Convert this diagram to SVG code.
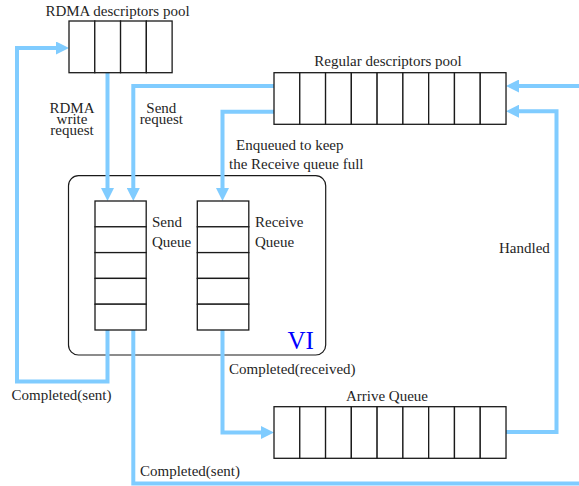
<svg xmlns="http://www.w3.org/2000/svg" width="579" height="486" viewBox="0 0 579 486">
<style>
.cell{fill:#ffffff;stroke:#1a1a1a;stroke-width:1.3}
.vi{fill:none;stroke:#1a1a1a;stroke-width:1.2}
.flow{fill:none;stroke:#80ccff;stroke-width:4;stroke-linejoin:miter;stroke-linecap:butt}
.arr{marker-end:url(#ah)}
text{font-family:"Liberation Serif","Times New Roman",serif;font-size:15px;fill:#1f1f1f}
.mid{text-anchor:middle}
.vilabel{font-size:25px;fill:#0000ff}
</style>
<defs>
<marker id="ah" markerUnits="userSpaceOnUse" viewBox="0 0 13 13" refX="0" refY="6.5" markerWidth="13" markerHeight="13" orient="auto">
<path d="M0,0 L13,6.5 L0,13 z" fill="#80ccff"/>
</marker>
</defs>
<rect width="579" height="486" fill="#ffffff"/>

<g id="vi">
<rect class="vi" x="68.5" y="175.7" width="257.2" height="179.3" rx="10" ry="10"/>
<text class="vilabel" x="287.5" y="348.5">VI</text>
</g>

<g id="connectors">
<path class="flow arr" d="M107.5,72.7 V188"/>
<path class="flow arr" d="M274,86 H133.3 V188"/>
<path class="flow arr" d="M274,111.7 H222.5 V188"/>
<path class="flow arr" d="M107.5,330 V381.5 H17 V48 H56"/>
<path class="flow" d="M133.3,330 V483.5 H585"/>
<path class="flow arr" d="M222.5,330 V432.5 H261"/>
<path class="flow arr" d="M506,432 H556.5 V111.2 H519"/>
<path class="flow arr" d="M585,86 H519"/>
<text class="mid" x="72" y="112.7">RDMA</text>
<text class="mid" x="72" y="124">write</text>
<text class="mid" x="72" y="134.5">request</text>
<text class="mid" x="161.3" y="112.7">Send</text>
<text class="mid" x="161.3" y="123.5">request</text>
<text x="236" y="149.5">Enqueued to keep</text>
<text x="229" y="169">the Receive queue full</text>
<text x="229" y="374">Completed(received)</text>
<text x="11.5" y="400">Completed(sent)</text>
<text x="140" y="476">Completed(sent)</text>
<text x="499" y="253">Handled</text>
</g>

<g id="rdma-pool">
<text class="mid" x="117.5" y="15.5">RDMA descriptors pool</text>
<rect class="cell" x="69" y="21" width="25.78" height="51.7"/>
<rect class="cell" x="94.78" y="21" width="25.78" height="51.7"/>
<rect class="cell" x="120.56" y="21" width="25.78" height="51.7"/>
<rect class="cell" x="146.34" y="21" width="25.78" height="51.7"/>
</g>

<g id="regular-pool">
<text class="mid" x="388" y="66">Regular descriptors pool</text>
<rect class="cell" x="274" y="72.7" width="25.78" height="51.6"/>
<rect class="cell" x="299.78" y="72.7" width="25.78" height="51.6"/>
<rect class="cell" x="325.56" y="72.7" width="25.78" height="51.6"/>
<rect class="cell" x="351.34" y="72.7" width="25.78" height="51.6"/>
<rect class="cell" x="377.12" y="72.7" width="25.78" height="51.6"/>
<rect class="cell" x="402.9" y="72.7" width="25.78" height="51.6"/>
<rect class="cell" x="428.68" y="72.7" width="25.78" height="51.6"/>
<rect class="cell" x="454.46" y="72.7" width="25.78" height="51.6"/>
<rect class="cell" x="480.24" y="72.7" width="25.78" height="51.6"/>
</g>

<g id="send-queue">
<rect class="cell" x="95" y="201" width="51.2" height="25.8"/>
<rect class="cell" x="95" y="226.8" width="51.2" height="25.8"/>
<rect class="cell" x="95" y="252.6" width="51.2" height="25.8"/>
<rect class="cell" x="95" y="278.4" width="51.2" height="25.8"/>
<rect class="cell" x="95" y="304.2" width="51.2" height="25.8"/>
<text x="152" y="227">Send</text>
<text x="152" y="246.5">Queue</text>
</g>

<g id="receive-queue">
<rect class="cell" x="197.3" y="201" width="51.5" height="25.8"/>
<rect class="cell" x="197.3" y="226.8" width="51.5" height="25.8"/>
<rect class="cell" x="197.3" y="252.6" width="51.5" height="25.8"/>
<rect class="cell" x="197.3" y="278.4" width="51.5" height="25.8"/>
<rect class="cell" x="197.3" y="304.2" width="51.5" height="25.8"/>
<text x="255" y="227">Receive</text>
<text x="255" y="246.5">Queue</text>
</g>

<g id="arrive-queue">
<text class="mid" x="387" y="401">Arrive Queue</text>
<rect class="cell" x="274" y="406.7" width="25.78" height="51.6"/>
<rect class="cell" x="299.78" y="406.7" width="25.78" height="51.6"/>
<rect class="cell" x="325.56" y="406.7" width="25.78" height="51.6"/>
<rect class="cell" x="351.34" y="406.7" width="25.78" height="51.6"/>
<rect class="cell" x="377.12" y="406.7" width="25.78" height="51.6"/>
<rect class="cell" x="402.9" y="406.7" width="25.78" height="51.6"/>
<rect class="cell" x="428.68" y="406.7" width="25.78" height="51.6"/>
<rect class="cell" x="454.46" y="406.7" width="25.78" height="51.6"/>
<rect class="cell" x="480.24" y="406.7" width="25.78" height="51.6"/>
</g>
</svg>
